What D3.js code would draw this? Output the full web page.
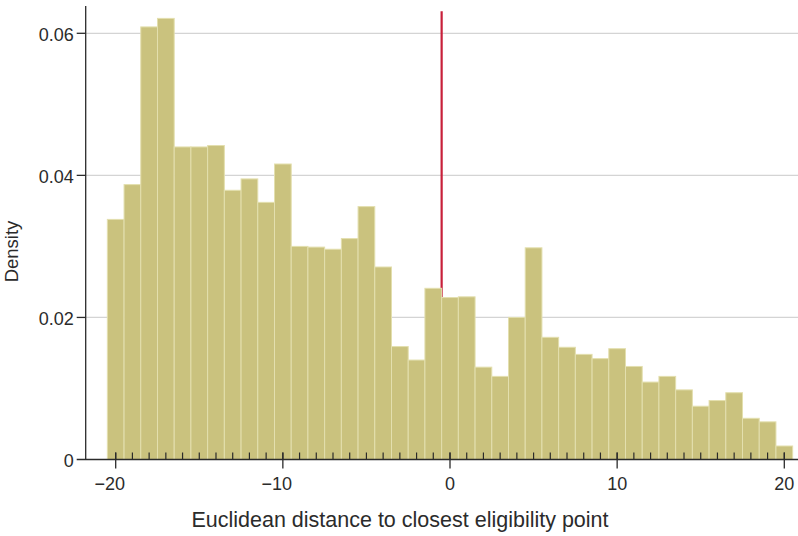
<!DOCTYPE html>
<html>
<head>
<meta charset="utf-8">
<script src="https://cdn.jsdelivr.net/npm/d3@7"></script>
<style>
  html, body { margin: 0; padding: 0; background: #fff; }
  svg { display: block; font-family: "Liberation Sans", Arial, Helvetica, sans-serif; }
</style>
</head>
<body>
<svg id="chart" width="798" height="536"></svg>
<script>
// Histogram bins: centres of unit-width bins
const binCenters = d3.range(-20, 21);
// Density of each bin
const densities = [
  0.0338, 0.0387, 0.0609, 0.0621, 0.0440, 0.0440, 0.0442, 0.0379, 0.0395, 0.0362,
  0.0416, 0.0300, 0.0299, 0.0296, 0.0311, 0.0356, 0.0271, 0.0159, 0.0140, 0.0241,
  0.0228, 0.0229, 0.0130, 0.0117, 0.0200, 0.0298, 0.0172, 0.0158, 0.0148, 0.0142,
  0.0156, 0.0131, 0.0109, 0.0117, 0.0098, 0.0075, 0.0083, 0.0094, 0.0058, 0.0053,
  0.0019
];
const binWidth = 1;
const xMajorTicks = [-20, -10, 0, 10, 20];
const xMinorTicks = d3.range(-20, 21);
const yTicks = [0, 0.02, 0.04, 0.06];
const yTickLabels = ["0", "0.02", "0.04", "0.06"];
const cutoff = -0.5;
const cutoffTop = 0.0631;
const xTitle = "Euclidean distance to closest eligibility point";
const yTitle = "Density";

const svg = d3.select("#chart");
const x = d3.scaleLinear().domain([-20, 20]).range([115.7, 784.3]);
const y = d3.scaleLinear().domain([0, 0.06]).range([459.5, 33.3]);
const axisX = 85.7, plotTop = 6, rightEdge = 798;
const ink = "#2b2b2b";

// horizontal grid
svg.append("g").selectAll("line")
  .data(yTicks.filter(d => d > 0))
  .join("line")
  .attr("x1", axisX).attr("x2", rightEdge)
  .attr("y1", d => y(d)).attr("y2", d => y(d))
  .attr("stroke", "#d4d4d4").attr("stroke-width", 1.2);

// vertical reference line (drawn behind the bars)
svg.append("line")
  .attr("x1", x(cutoff)).attr("x2", x(cutoff))
  .attr("y1", y(0)).attr("y2", y(cutoffTop))
  .attr("stroke", "#c8203a").attr("stroke-width", 2.2);

// bars
svg.append("g").selectAll("rect")
  .data(binCenters.map((c, i) => ({ c, v: densities[i] })))
  .join("rect")
  .attr("x", d => x(d.c - binWidth / 2))
  .attr("width", d => x(d.c + binWidth / 2) - x(d.c - binWidth / 2))
  .attr("y", d => y(d.v))
  .attr("height", d => y(0) - y(d.v))
  .attr("fill", "#cac27e")
  .attr("stroke", "#e3dfae")
  .attr("stroke-width", 1);

// y axis
svg.append("line")
  .attr("x1", axisX).attr("x2", axisX)
  .attr("y1", plotTop).attr("y2", y(0))
  .attr("stroke", ink).attr("stroke-width", 1.3);
svg.append("g").selectAll("line")
  .data(yTicks.filter(d => d > 0))
  .join("line")
  .attr("x1", axisX - 9).attr("x2", axisX)
  .attr("y1", d => y(d)).attr("y2", d => y(d))
  .attr("stroke", ink).attr("stroke-width", 1.3);
svg.append("g").selectAll("text")
  .data(yTicks)
  .join("text")
  .attr("x", axisX - 12)
  .attr("y", d => y(d) + 1)
  .attr("dy", "0.35em")
  .attr("text-anchor", "end")
  .attr("font-size", 18)
  .attr("fill", ink)
  .text((d, i) => yTickLabels[i]);

// x axis
svg.append("line")
  .attr("x1", axisX - 9).attr("x2", rightEdge)
  .attr("y1", y(0)).attr("y2", y(0))
  .attr("stroke", ink).attr("stroke-width", 1.3);
svg.append("g").selectAll("line")
  .data(xMinorTicks)
  .join("line")
  .attr("x1", d => x(d)).attr("x2", d => x(d))
  .attr("y1", y(0) - 7).attr("y2", y(0))
  .attr("stroke", ink).attr("stroke-width", 1.2);
svg.append("g").selectAll("line")
  .data(xMajorTicks)
  .join("line")
  .attr("x1", d => x(d)).attr("x2", d => x(d))
  .attr("y1", y(0) - 7).attr("y2", y(0) + 9)
  .attr("stroke", ink).attr("stroke-width", 1.3);
svg.append("g").selectAll("text")
  .data(xMajorTicks)
  .join("text")
  .attr("x", d => x(d) - (d < 0 ? 6 : 0))
  .attr("y", 490)
  .attr("text-anchor", "middle")
  .attr("font-size", 18)
  .attr("fill", ink)
  .text(d => d < 0 ? "\u2212" + Math.abs(d) : String(d));

// axis titles
svg.append("text")
  .attr("x", 400).attr("y", 526.5)
  .attr("text-anchor", "middle")
  .attr("font-size", 21.5)
  .attr("fill", ink)
  .text(xTitle);
svg.append("text")
  .attr("transform", "translate(18,251.5) rotate(-90)")
  .attr("text-anchor", "middle")
  .attr("font-size", 18.5)
  .attr("fill", ink)
  .text(yTitle);
</script>
</body>
</html>
